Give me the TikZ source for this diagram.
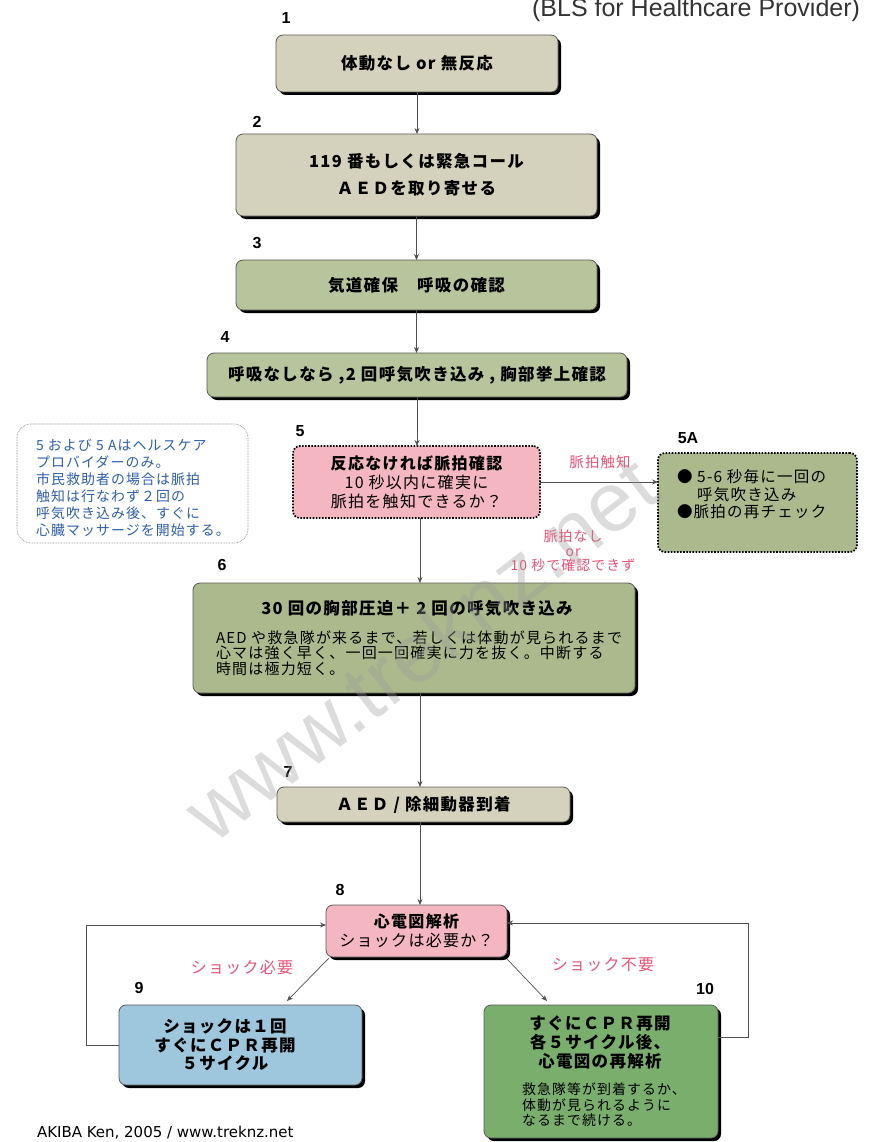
\documentclass[tikz,border=0pt]{standalone}
\usepackage{fontspec}
\setmainfont{Liberation Sans}
\newfontfamily\jp[LetterSpace=8]{Noto Sans CJK JP}
\newfontfamily\footfont{DejaVu Sans}
\usetikzlibrary{shadows,arrows.meta,calc}
\definecolor{beige}{HTML}{D4D2BC}
\definecolor{sage}{HTML}{B7C49C}
\definecolor{olive}{HTML}{ABB98C}
\definecolor{pinkbox}{HTML}{F4B6C0}
\definecolor{bluebox}{HTML}{9EC6DC}
\definecolor{greenbox}{HTML}{7AAE6C}
\definecolor{redtxt}{HTML}{EC5275}
\definecolor{bluetxt}{HTML}{2F5FAE}
\definecolor{linecol}{HTML}{505050}
\definecolor{wmark}{HTML}{9A9A9A}
\begin{document}
\begin{tikzpicture}[x=1pt,y=-1pt,
  every node/.style={inner sep=0pt,outer sep=0pt},
  box/.style={rectangle,rounded corners=7pt,draw=black!65,line width=0.8pt,fill=#1,
    drop shadow={shadow xshift=3pt,shadow yshift=-3pt,fill=black,opacity=1},
    align=center,font=\jp\bfseries\fontsize{16.5}{19}\selectfont},
  dotbox/.style={rectangle,rounded corners=7pt,draw=black,line width=1.7pt,
    dash pattern=on 1.6pt off 1.5pt,fill=#1,align=center},
  notebox/.style={rectangle,rounded corners=14pt,draw=gray,line width=0.6pt,
    dash pattern=on 0.7pt off 0.9pt,fill=white},
  num/.style={font=\bfseries\fontsize{16}{16}\selectfont},
  redlbl/.style={text=redtxt,align=center,font=\jp\fontsize{14.4}{15}\selectfont},
  arr/.style={draw=linecol,line width=0.7pt,-{Stealth[length=6pt,width=5pt]}},
  line/.style={draw=linecol,line width=0.7pt}]
\useasboundingbox (0,0) rectangle (873,1142);

% title
\node[anchor=base east,font=\fontsize{25}{25}\selectfont,text=black!80] (title) at (860,17) {(BLS for Healthcare Provider)};

% boxes
\node[box=beige,minimum width=282,minimum height=57] (b1) at (417,63.5) {体動なし or 無反応};
\node[box=beige,minimum width=361,minimum height=82,font=\jp\bfseries\fontsize{16.5}{27}\selectfont] (b2) at (416.5,175) {119 番もしくは緊急コール\\ＡＥＤを取り寄せる};
\node[box=sage,minimum width=361,minimum height=50] (b3) at (416.5,285) {気道確保　呼吸の確認};
\node[box=sage,minimum width=420,minimum height=44] (b4) at (417,375) {呼吸なしなら ,2 回呼気吹き込み , 胸部挙上確認};

\node[notebox,minimum width=231,minimum height=119] (note) at (132.5,483.5) {};
\node[anchor=west,align=left,text=bluetxt,font=\jp\fontsize{13.9}{17}\selectfont] (notetxt) at (36,487.5)
  {5 および 5 Aはヘルスケア\\プロバイダーのみ。\\市民救助者の場合は脈拍\\触知は行なわず２回の\\呼気吹き込み後、すぐに\\心臓マッサージを開始する。};

\node[dotbox=pinkbox,minimum width=247,minimum height=72,font=\jp\fontsize{16}{19}\selectfont] (b5) at (416.5,482)
  {{\bfseries 反応なければ脈拍確認}\\10 秒以内に確実に\\脈拍を触知できるか？};
\node[dotbox=olive,minimum width=199,minimum height=99] (b5A) at (757.5,502.5) {};
\node[anchor=west,align=left,font=\jp\fontsize{15.5}{17.5}\selectfont] (t5A) at (677,494.5)
  {● 5-6 秒毎に一回の\\\phantom{● }呼気吹き込み\\●脈拍の再チェック};

\node[box=olive,minimum width=442,minimum height=110] (b6) at (414,638) {};
\node[font=\jp\bfseries\fontsize{16.5}{19}\selectfont] (t6a) at (417,608) {30 回の胸部圧迫＋ 2 回の呼気吹き込み};
\node[anchor=west,align=left,font=\jp\fontsize{15}{15.5}\selectfont] (t6b) at (216,653)
  {AED や救急隊が来るまで、若しくは体動が見られるまで\\心マは強く早く、一回一回確実に力を抜く。中断する\\時間は極力短く。};

\node[box=beige,minimum width=293,minimum height=35] (b7) at (423.5,804.5) {ＡＥＤ / 除細動器到着};

\node[box=pinkbox,minimum width=181,minimum height=52,font=\jp\fontsize{16}{19}\selectfont] (b8) at (416.5,931)
  {{\bfseries 心電図解析}\\ショックは必要か？};

\node[box=bluebox,minimum width=243,minimum height=80] (b9) at (240.5,1045) {};
\node[align=center,font=\jp\bfseries\fontsize{16.5}{18.5}\selectfont] (t9) at (225,1045) {ショックは１回\\すぐにＣＰＲ再開\\５サイクル};

\node[box=greenbox,minimum width=234,minimum height=133] (b10) at (601,1071.5) {};
\node[align=center,font=\jp\bfseries\fontsize{16.5}{19}\selectfont] (t10a) at (600,1042) {すぐにＣＰＲ再開\\各５サイクル後、\\心電図の再解析};
\node[anchor=west,align=left,font=\jp\fontsize{13.9}{15.5}\selectfont] (t10b) at (522,1105)
  {救急隊等が到着するか、\\体動が見られるように\\なるまで続ける。};

% step numbers
\node[num] (n1) at (286,18) {1};
\node[num] (n2) at (257,122) {2};
\node[num] (n3) at (257,243) {3};
\node[num] (n4) at (225,337) {4};
\node[num] (n5) at (300,431) {5};
\node[num] (n5A) at (688,438) {5A};
\node[num] (n6) at (222,565) {6};
\node[num] (n7) at (288,772) {7};
\node[num] (n8) at (340,890) {8};
\node[num] (n9) at (139,988) {9};
\node[num] (n10) at (705,989) {10};

% connectors
\coordinate (cx) at (420,0);
\draw[arr] (b1.south) -- (b1.south |- b2.north);
\draw[arr] (b2.south) -- (b2.south |- b3.north);
\draw[arr] (b3.south) -- (b3.south |- b4.north);
\draw[arr] (b4.south) -- (b4.south |- b5.north);
\draw[arr] (b5.south -| cx) -- (b6.north -| cx);
\draw[arr] (b6.south -| cx) -- (b7.north -| cx);
\draw[arr] (b7.south -| cx) -- (b8.north -| cx);
\draw[arr] (b5.east) -- (b5.east -| b5A.west);
\draw[arr] ($(b8.south west)+(3,1)$) -- ($(b9.north east)+(-75,-4)$);
\draw[arr] ($(b8.south east)+(0,2)$) -- ($(b10.north west)+(63,-4)$);
\coordinate (l9) at (86,1045);
\coordinate (l10) at (748,1037);
\draw[arr] (b9.west) -- (l9) |- ($(b8.west)+(0,-6)$);
\draw[arr] ($(b10.north east)+(0,32)$) -- (l10) |- ($(b8.east)+(0,-8)$);

% edge labels
\node[redlbl] (lbl5a) at (600,462) {脈拍触知};
\node[redlbl,font=\jp\fontsize{13.9}{14.5}\selectfont] (lbl56) at (573,551) {脈拍なし\\or\\10 秒で確認できず};
\node[redlbl,font=\jp\fontsize{16}{15}\selectfont] (lbl9) at (242,967) {ショック必要};
\node[redlbl,font=\jp\fontsize{16}{15}\selectfont] (lbl10) at (603,965) {ショック不要};

% footer
\node[anchor=base west,font=\footfont\fontsize{15}{15}\selectfont] (foot) at (37,1137) {AKIBA Ken, 2005 / www.treknz.net};

% watermark
\node[rotate=37.7,font=\fontsize{84}{84}\selectfont,text=wmark,opacity=0.35] (wm) at (420,648) {www.treknz.net};
\end{tikzpicture}
\end{document}
